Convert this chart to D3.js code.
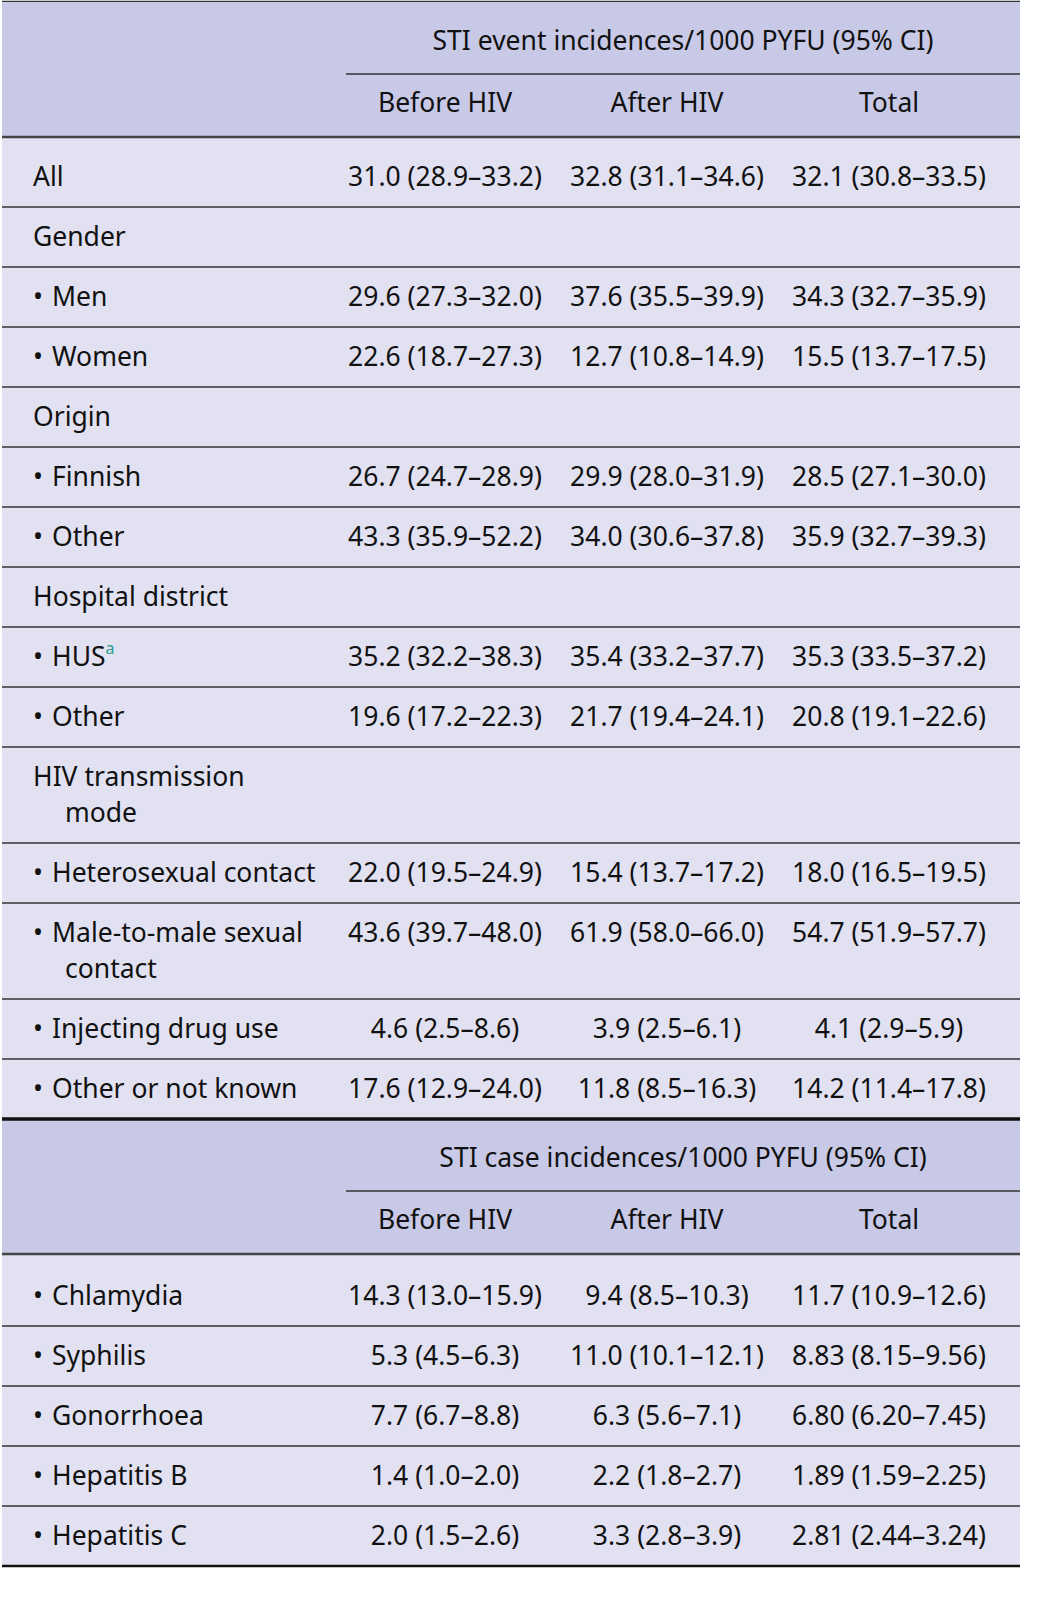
<!DOCTYPE html>
<html><head><meta charset="utf-8">
<script src="https://cdn.jsdelivr.net/npm/d3@7"></script>
<style>body{margin:0;background:#fff}svg{display:block}text{font-family:"Noto Sans",sans-serif;font-size:26.5px;fill:#111}</style>
</head><body><svg id="c" width="1042" height="1601"></svg>
<script>
const columns = ["Before HIV", "After HIV", "Total"];
const title1 = "STI event incidences/1000 PYFU (95% CI)";
const title2 = "STI case incidences/1000 PYFU (95% CI)";
// [label lines, isBullet, values]
const eventRows = [
  [["All"], false, ["31.0 (28.9–33.2)","32.8 (31.1–34.6)","32.1 (30.8–33.5)"]],
  [["Gender"], false, null],
  [["Men"], true, ["29.6 (27.3–32.0)","37.6 (35.5–39.9)","34.3 (32.7–35.9)"]],
  [["Women"], true, ["22.6 (18.7–27.3)","12.7 (10.8–14.9)","15.5 (13.7–17.5)"]],
  [["Origin"], false, null],
  [["Finnish"], true, ["26.7 (24.7–28.9)","29.9 (28.0–31.9)","28.5 (27.1–30.0)"]],
  [["Other"], true, ["43.3 (35.9–52.2)","34.0 (30.6–37.8)","35.9 (32.7–39.3)"]],
  [["Hospital district"], false, null],
  [["HUS"], true, ["35.2 (32.2–38.3)","35.4 (33.2–37.7)","35.3 (33.5–37.2)"], "a"],
  [["Other"], true, ["19.6 (17.2–22.3)","21.7 (19.4–24.1)","20.8 (19.1–22.6)"]],
  [["HIV transmission","mode"], false, null],
  [["Heterosexual contact"], true, ["22.0 (19.5–24.9)","15.4 (13.7–17.2)","18.0 (16.5–19.5)"]],
  [["Male-to-male sexual","contact"], true, ["43.6 (39.7–48.0)","61.9 (58.0–66.0)","54.7 (51.9–57.7)"]],
  [["Injecting drug use"], true, ["4.6 (2.5–8.6)","3.9 (2.5–6.1)","4.1 (2.9–5.9)"]],
  [["Other or not known"], true, ["17.6 (12.9–24.0)","11.8 (8.5–16.3)","14.2 (11.4–17.8)"]]
];
const caseRows = [
  [["Chlamydia"], true, ["14.3 (13.0–15.9)","9.4 (8.5–10.3)","11.7 (10.9–12.6)"]],
  [["Syphilis"], true, ["5.3 (4.5–6.3)","11.0 (10.1–12.1)","8.83 (8.15–9.56)"]],
  [["Gonorrhoea"], true, ["7.7 (6.7–8.8)","6.3 (5.6–7.1)","6.80 (6.20–7.45)"]],
  [["Hepatitis B"], true, ["1.4 (1.0–2.0)","2.2 (1.8–2.7)","1.89 (1.59–2.25)"]],
  [["Hepatitis C"], true, ["2.0 (1.5–2.6)","3.3 (2.8–3.9)","2.81 (2.44–3.24)"]]
];
const svg = d3.select("#c");
const L = 2, R = 1020;
const x = d3.scaleBand().domain(columns).range([334, 1000]);
const g = svg.append("g");
function header(y0, title){
  g.append("rect").attr("x",L).attr("y",y0).attr("width",R-L).attr("height",135).attr("fill","#c8c9e6");
  g.append("text").attr("x",(346+R)/2).attr("y",y0+39).attr("text-anchor","middle").attr("dy","0.35em").text(title);
  g.append("line").attr("x1",346).attr("x2",R).attr("y1",y0+72).attr("y2",y0+72).attr("stroke","#333").attr("stroke-width",1.3);
  columns.forEach(c=>g.append("text").attr("x",x(c)+x.bandwidth()/2).attr("y",y0+101).attr("dy","0.35em").attr("text-anchor","middle").text(c));
  g.append("line").attr("x1",L).attr("x2",R).attr("y1",y0+135).attr("y2",y0+135).attr("stroke","#444").attr("stroke-width",2.5);
}
function body(rows, yStart){
  let y = yStart;
  const out = [];
  rows.forEach(r=>{ const h = r[0].length>1 ? 96 : 60; out.push({r, y, h}); y += h; });
  g.append("rect").attr("x",L).attr("y",yStart-11).attr("width",R-L).attr("height",y-yStart+11).attr("fill","#e1e1f1").lower();
  out.forEach(({r,y,h})=>{
    const [lines, bullet, vals, sup] = r;
    const cy = y + (lines.length>1 ? 30 : h/2);
    lines.forEach((ln,i)=>{
      const t = g.append("text").attr("y",cy+i*36).attr("dy","0.35em");
      if(i===0){
        t.attr("x",33);
        if(bullet){ t.append("tspan").text("•"); t.append("tspan").attr("x",52).text(ln); }
        else t.text(ln);
        if(sup) t.append("tspan").attr("dy","-0.75em").attr("font-size","16px").style("fill","#2a9d8f").text(sup);
      } else t.attr("x",65).text(ln);
    });
    if(vals) vals.forEach((v,i)=>g.append("text").attr("x",x(columns[i])+x.bandwidth()/2).attr("y",cy).attr("dy","0.35em").attr("text-anchor","middle").text(v));
    g.append("line").attr("x1",L).attr("x2",R).attr("y1",y+h).attr("y2",y+h).attr("stroke","#333").attr("stroke-width",1.3);
  });
  return y;
}
g.append("line").attr("x1",L).attr("x2",R).attr("y1",2).attr("y2",2).attr("stroke","#333").attr("stroke-width",2.5);
header(2,title1);
let yEnd = body(eventRows, 147);
const h2 = yEnd;
header(h2, title2);
let yEnd2 = body(caseRows, h2+147);
g.append("line").attr("x1",L).attr("x2",R).attr("y1",h2).attr("y2",h2).attr("stroke","#111").attr("stroke-width",3.5);
g.append("line").attr("x1",L).attr("x2",R).attr("y1",yEnd2).attr("y2",yEnd2).attr("stroke","#111").attr("stroke-width",2.5);
g.selectAll("text").raise();
</script></body></html>
